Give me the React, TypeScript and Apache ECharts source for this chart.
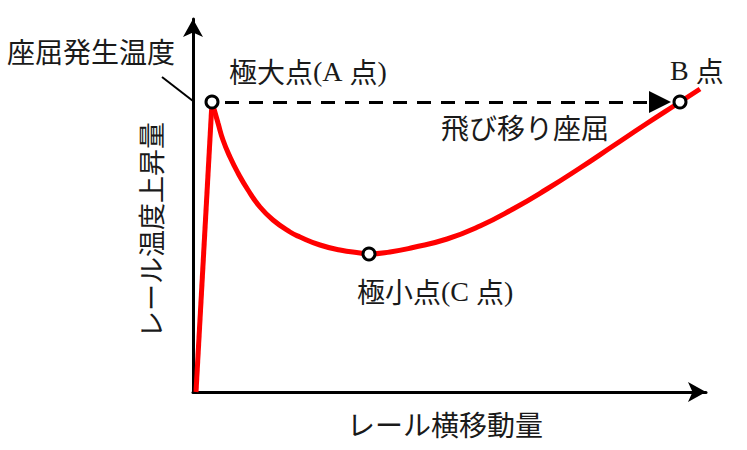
import React, { useEffect, useRef } from 'react';
import * as echarts from 'echarts';

// Axis extents (arbitrary units, no tick labels shown)
const xMax = 513;
const yMax = 373;

// Elastic rise from origin to the maximum point A
const riseX = [3, 19];
const riseY = [0, 290];

// Post-buckling equilibrium path A -> C -> B
const curveX = [19, 25, 30, 37, 45, 55, 67, 80, 97, 107, 127, 147, 167, 176, 197, 220, 254, 287, 320, 354, 387, 420, 453, 487, 507];
const curveY = [290, 269, 252, 235, 219, 202, 185, 172, 160, 155, 147, 142, 139, 138, 140, 144.5, 153, 166, 183, 203, 224, 246, 268, 290, 303];

// Marked points A (max), C (min), B
const pointNames = ['A', 'C', 'B'];
const pointX = [19, 176, 487];
const pointY = [290, 138, 290];

// Snap-through (dashed arrow) from A toward B
const jumpX = [32, 467];
const jumpY = 290;

const JP = '"Noto Sans CJK JP", "Noto Sans", sans-serif';
const SERIF = '"Liberation Serif", "DejaVu Serif", serif';
const TXT = '#1a1a1a';

function richLabel(x: number, y: number, text: string, size: number) {
  return {
    type: 'text',
    x,
    y,
    z: 10,
    style: {
      text,
      fill: TXT,
      textAlign: 'left',
      align: 'left',
      textVerticalAlign: 'middle',
      verticalAlign: 'middle',
      rich: {
        j: { fontFamily: JP, fontSize: size, fill: TXT },
        r: { fontFamily: SERIF, fontSize: size, fill: TXT },
      },
    },
  };
}

function plainLabel(x: number, y: number, text: string, size: number, align = 'left', rotation = 0) {
  return {
    type: 'text',
    x,
    y,
    rotation,
    z: 10,
    style: {
      text,
      fill: TXT,
      fontFamily: JP,
      fontSize: size,
      textAlign: align,
      align,
      textVerticalAlign: 'middle',
      verticalAlign: 'middle',
    },
  };
}

export default function App() {
  const ref = useRef<HTMLDivElement>(null);
  useEffect(() => {
    if (!ref.current) return;
    const chart = echarts.init(ref.current, undefined, { renderer: 'svg' });
    const axisCommon = {
      type: 'value' as const,
      min: 0,
      axisLine: {
        show: true,
        onZero: false,
        symbol: ['none', 'arrow'],
        symbolSize: [15, 18],
        lineStyle: { color: '#000', width: 3 },
      },
      axisTick: { show: false },
      axisLabel: { show: false },
      splitLine: { show: false },
    };
    chart.setOption({
      animation: false,
      backgroundColor: '#fff',
      grid: { left: 193, top: 19, width: 513, height: 373 },
      xAxis: { ...axisCommon, max: xMax },
      yAxis: { ...axisCommon, max: yMax },
      series: [
        {
          type: 'line',
          data: riseX.map((x, i) => [x, riseY[i]]),
          showSymbol: false,
          lineStyle: { color: '#ff0000', width: 5 },
          z: 3,
        },
        {
          type: 'line',
          data: curveX.map((x, i) => [x, curveY[i]]),
          smooth: 0.5,
          showSymbol: false,
          lineStyle: { color: '#ff0000', width: 5 },
          z: 3,
        },
        {
          type: 'lines',
          coordinateSystem: 'cartesian2d',
          symbol: ['none', 'triangle'],
          symbolSize: [18, 22],
          lineStyle: { color: '#000', width: 3, type: [14, 10], opacity: 1 },
          itemStyle: { color: '#000' },
          data: [{ coords: [[jumpX[0], jumpY], [jumpX[1], jumpY]] }],
          z: 4,
        },
        {
          type: 'scatter',
          data: pointX.map((x, i) => ({ name: pointNames[i], value: [x, pointY[i]] })),
          symbol: 'circle',
          symbolSize: 12,
          itemStyle: { color: '#fff', borderColor: '#000', borderWidth: 3, opacity: 1 },
          z: 6,
        },
      ],
      graphic: [
        plainLabel(7, 51, '座屈発生温度', 28),
        {
          type: 'line',
          shape: { x1: 162, y1: 77, x2: 193, y2: 101 },
          style: { stroke: '#000', lineWidth: 2 },
          z: 10,
        },
        richLabel(229, 71, '{j|極大点}{r|(A }{j|点}{r|)}', 28),
        richLabel(670, 70, '{r|B }{j|点}', 28),
        plainLabel(441, 127, '飛び移り座屈', 28),
        richLabel(357, 291, '{j|極小点}{r|(C }{j|点}{r|)}', 28),
        plainLabel(445, 424, 'レール横移動量', 28, 'center'),
        plainLabel(150, 230, 'レール温度上昇量', 27, 'center', Math.PI / 2),
      ],
    });
    return () => chart.dispose();
  }, []);
  return (
    <div
      ref={ref}
      style={{ position: 'fixed', left: 0, top: 0, width: 747, height: 450, background: '#fff' }}
    />
  );
}
